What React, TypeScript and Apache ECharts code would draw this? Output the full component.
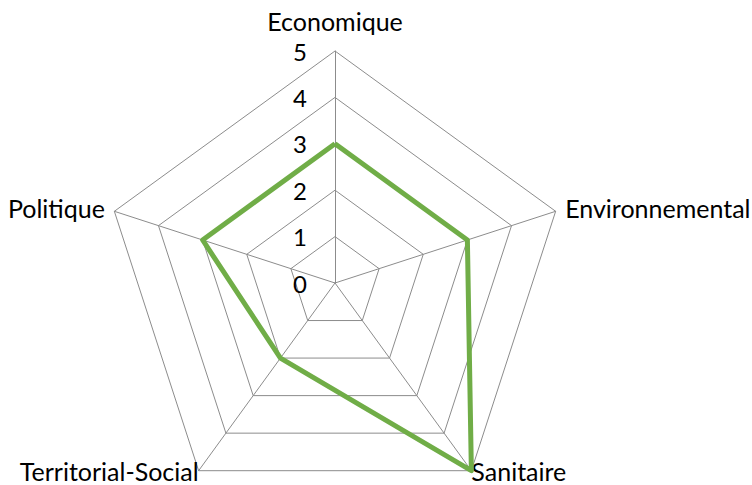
import React, { useEffect, useRef } from "react";
import * as echarts from "echarts";

// Categories listed clockwise from the top, as in the reference
const indicators = ["Economique", "Environnemental", "Sanitaire", "Territorial-Social", "Politique"];
const values = [3, 3, 5, 2, 3];
const maxValue = 5;
const splitCount = 5;
const nameGaps = [18, 10, 0, 0, 10];

export default function App() {
  const ref = useRef<HTMLDivElement>(null);
  useEffect(() => {
    document.body.style.margin = "0";
    const chart = echarts.init(ref.current!, null, { renderer: "svg" });
    const font = "Lato, 'Noto Sans', sans-serif";
    // ECharts radar runs counter-clockwise; reorder to draw clockwise
    const order = [0, ...indicators.map((_, i) => i).slice(1).reverse()];
    chart.setOption({
      animation: false,
      backgroundColor: "#ffffff",
      radar: {
        center: [335, 283],
        radius: 232,
        startAngle: 90,
        shape: "polygon",
        splitNumber: splitCount,
        indicator: order.map((i) => ({
          name: indicators[i],
          min: 0,
          max: maxValue,
          nameGap: nameGaps[i],
          axisLabel: i === 0 ? { show: true } : { show: false },
        })),
        axisName: { color: "#000000", fontSize: 25, lineHeight: 25, fontFamily: font },
        nameGap: 10,
        axisLine: { lineStyle: { color: "#8c8c8c", width: 1 } },
        splitLine: { lineStyle: { color: "#8c8c8c", width: 1 } },
        splitArea: { show: false },
        axisTick: { show: false },
        axisLabel: {
          show: false,
          color: "#000000",
          fontSize: 24,
          fontFamily: font,
          margin: 28,
        },
      },
      series: [
        {
          type: "radar",
          symbol: "none",
          lineStyle: { color: "#70AD47", width: 5 },
          data: [{ value: order.map((i) => values[i]) }],
        },
      ],
    });
    return () => chart.dispose();
  }, []);
  return <div ref={ref} style={{ position: "absolute", left: 0, top: 0, width: 752, height: 485 }} />;
}
